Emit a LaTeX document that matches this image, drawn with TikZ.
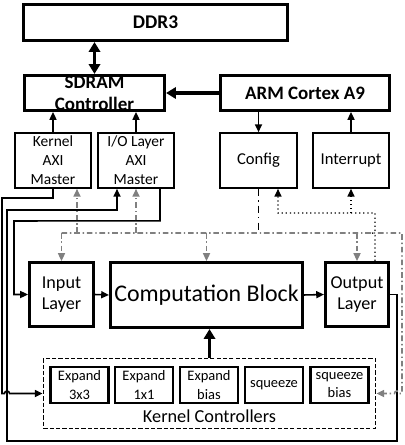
\documentclass[tikz,border=0pt]{standalone}
\usepackage{fontspec}
\setmainfont{Carlito}
\usetikzlibrary{arrows.meta,positioning,calc}

\begin{document}
\begin{tikzpicture}[x=0.025cm, y=-0.025cm,
    >={Triangle[length=5.5pt,width=5pt]},
    blk/.style={draw, line width=2.2pt, inner sep=0, align=center},
    box/.style={draw, line width=1.2pt, inner sep=0, align=center},
    kbox/.style={draw, line width=1.5pt, inner sep=0, align=center, minimum width=1.45cm, minimum height=0.9cm, font=\fontsize{10.3}{13}\selectfont},
    wire/.style={line width=1.1pt},
    thk/.style={line width=2.2pt, >={Triangle[length=7pt,width=8pt]}},
    ctrl/.style={gray, line width=1.1pt, dash pattern=on 4pt off 2pt on 1pt off 2pt},
    cfgline/.style={line width=1.4pt, dash pattern=on 5pt off 3pt on 1pt off 3pt},
    done/.style={line width=0.9pt, dotted}]
      \useasboundingbox (0,0) rectangle (405,445);

      % top row
      \node[blk, minimum width=6.6cm, minimum height=0.9cm, font=\fontsize{13.8}{16}\selectfont\bfseries] (ddr) at (155.5,22.5) {DDR3};
      \node[blk, minimum width=3.5cm, minimum height=0.875cm, font=\fontsize{13.5}{15.6}\selectfont\bfseries] (sdram) at (94.5,93) {SDRAM\\Controller};
      \node[blk, minimum width=4.225cm, minimum height=0.875cm, font=\fontsize{13.5}{15.6}\selectfont\bfseries] (arm) at (305,93) {ARM Cortex A9};

      % masters and ARM ports
      \node[box, minimum width=1.9cm, minimum height=1.375cm, font=\fontsize{11}{13.5}\selectfont] (kaxi) at (53,160.5) {Kernel\\AXI\\Master};
      \node[box, minimum width=1.9cm, minimum height=1.375cm, font=\fontsize{11}{13.5}\selectfont] (ioaxi) at (136,160.5) {I/O Layer\\AXI\\Master};
      \node[box, minimum width=1.925cm, minimum height=1.375cm, font=\fontsize{11.8}{14}\selectfont] (config) at (258.5,160.5) {Config};
      \node[box, minimum width=1.9cm, minimum height=1.375cm, font=\fontsize{11.8}{14}\selectfont] (intr) at (351,160.5) {Interrupt};

      % datapath
      \node[blk, minimum width=1.6cm, minimum height=1.6cm, font=\fontsize{12.9}{15.4}\selectfont] (inl) at (61.5,294.5) {Input\\Layer};
      \node[blk, minimum width=4.8cm, minimum height=1.625cm, font=\fontsize{17}{19}\selectfont] (comp) at (206.5,295) {Computation Block};
      \node[blk, minimum width=1.575cm, minimum height=1.6cm, font=\fontsize{12.9}{15.4}\selectfont] (outl) at (357,294.5) {Output\\Layer};

      % kernel controllers
      \node[draw, line width=1.2pt, dash pattern=on 3pt off 1.5pt, minimum width=8.3cm, minimum height=1.75cm] (kc) at (209.5,393.5) {};
      \foreach \nm/\xx/\txt in {e3/79.5/{Expand\\3x3}, e1/144/{Expand\\1x1}, eb/209/{Expand\\bias}, sq/274/{squeeze}, sb/339.5/{squeeze\\bias}}
        \node[kbox] (\nm) at (\xx,385) {\txt};
      \node[font=\fontsize{13}{15}\selectfont] (kclabel) at (209.5,416) {Kernel Controllers};

      \coordinate (kin) at ($(kaxi.south)+(24,0)$);
      \coordinate (ioin) at ($(ioaxi.south)+(-19,0)$);
      \coordinate (ioout) at ($(ioaxi.south)+(24,0)$);
      \coordinate (cfgin) at ($(config.south)+(19.5,0)$);
      \coordinate (odone) at ($(outl.north)+(18,0)$);
      \coordinate (dn) at (375,213);
      \coordinate (busR) at (402,233);

      % memory side
      \draw[thk,<->] (ddr.south -| sdram.north) -- (sdram.north);
      \draw[thk,->] (arm.west) -- (sdram.east);
      \draw[wire,->] (kaxi.north) -- (kaxi.north |- sdram.south);
      \draw[wire,->] (ioaxi.north) -- (ioaxi.north |- sdram.south);
      \draw[wire,->] (config.north |- arm.south) -- (config.north);
      \draw[wire,->] (intr.north) -- (intr.north |- arm.south);

      % data wires
      \draw[wire,->] (kaxi.south) -- (53,198) -- (2,198) -- (2,393.5) -- (4.5,393.5) arc[start angle=180, end angle=0, radius=1.8pt] -- (kc.west);
      \draw[wire,->] (outl.east) -- (397,294.5) -- (397,441) -- (7,441) -- (7,210) -| (ioin);
      \draw[wire,->] (ioout) -- ++(0,32) -- (14,221) |- (inl.west);
      \draw[wire,->] (inl.east) -- (comp.west);
      \draw[wire,->] (comp.east) -- (outl.west);
      \draw[thk,->] (kc.north) -- (kc.north |- comp.south);

      % control bus
      \draw[cfgline] (config.south) -- (config.south |- busR);
      \draw[ctrl,->] (inl.north |- busR) -- (busR) -- (402,393.5) -- (399.5,393.5) arc[start angle=0, end angle=180, radius=1.8pt] -- (kc.east);
      \foreach \n in {inl,comp,outl}
        \draw[ctrl,->] (\n.north |- busR) -- (\n.north);
      \draw[ctrl,->] (kin |- busR) -- (kin);
      \draw[ctrl,->] (ioaxi.south |- busR) -- (ioaxi.south);

      % done signal
      \draw[done,->] (odone) -- (375,235.5) arc[start angle=270, end angle=90, radius=1.8pt] -- (dn) -| (cfgin);
      \draw[done,->] (intr.south |- dn) -- (intr.south);
\end{tikzpicture}
\end{document}
